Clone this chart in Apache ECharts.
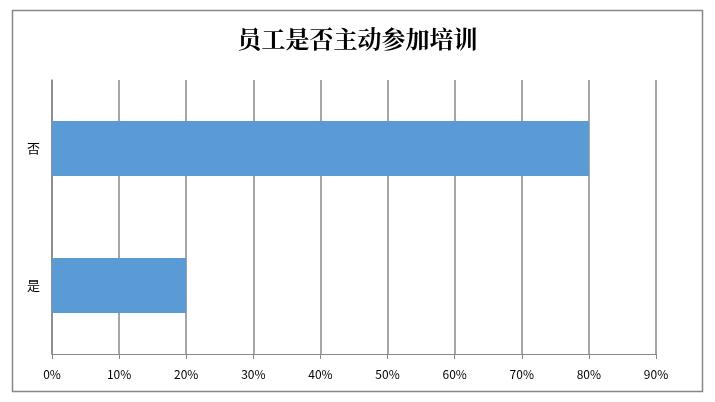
<!DOCTYPE html>
<html><head><meta charset="utf-8">
<script src="https://cdn.jsdelivr.net/npm/echarts@6/dist/echarts.min.js"></script>
<style>html,body{margin:0;padding:0;background:#fff}#c{width:715px;height:402px}</style>
</head><body><div id="c"></div>
<script>
const categories = ['是', '否'];
const values = [20, 80];
const titleText = '员工是否主动参加培训';
const chart = echarts.init(document.getElementById('c'));
chart.setOption({
  animation: false,
  graphic: [{type:'rect', shape:{x:12.5,y:10.5,width:690,height:381}, style:{fill:'none', stroke:'#888', lineWidth:1.5}, silent:true}],
  title: {text: titleText, left: 'center', top: 22, textStyle: {fontFamily: 'Noto Serif CJK SC, Noto Sans CJK SC, serif', fontSize: 24, fontWeight: 'bold', color: '#000'}},
  grid: {left: 52, right: 59, top: 80, bottom: 48},
  xAxis: {type: 'value', min: 0, max: 90, interval: 10,
    axisLabel: {formatter: '{value}%', color: '#000', fontSize: 12, fontFamily: 'Noto Sans CJK SC, sans-serif', margin: 14},
    axisLine: {show: true, lineStyle: {color: '#888'}}, axisTick: {show: true, length: 5, lineStyle:{color:'#888'}},
    splitLine: {lineStyle: {color: '#888', width: 1.5}}},
  yAxis: {type: 'category', data: categories,
    axisLabel: {color: '#000', fontSize: 13, fontFamily: 'Noto Sans CJK SC, sans-serif', margin: 12},
    axisLine: {lineStyle: {color: '#888', width: 1.5}}, axisTick: {length: 7, lineStyle: {color: '#888'}}},
  series: [{type: 'bar', data: values, barCategoryGap: '60%', itemStyle: {color: '#5B9BD5'}}]
});
</script></body></html>
